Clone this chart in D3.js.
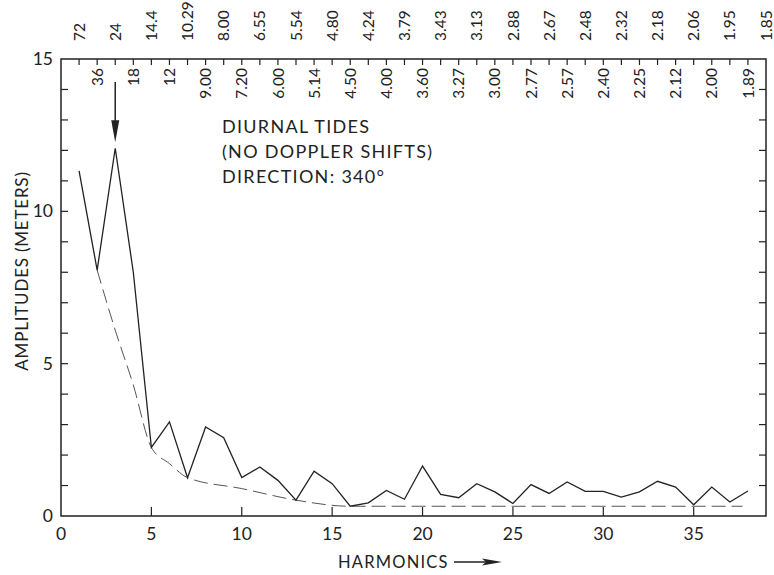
<!DOCTYPE html>
<html lang="en">
<head>
  <meta charset="UTF-8">
  <title>Diurnal tides harmonics</title>
  <script src="https://d3js.org/d3.v7.min.js"></script>
  <style>
    body { margin: 0; padding: 0; background: #fff; }
    svg { display: block; }
    text { fill: #222; font-family: Lato, "Open Sans", sans-serif; }
  </style>
</head>
<body>
  <div id="chart"></div>
  <script>
    // Harmonic numbers and read-off amplitudes (meters)
    const harmonics = [1, 2, 3, 4, 5, 6, 7, 8, 9, 10, 11, 12, 13, 14, 15, 16, 17, 18, 19,
      20, 21, 22, 23, 24, 25, 26, 27, 28, 29, 30, 31, 32, 33, 34, 35, 36, 37, 38];
    const amplitudes = [11.33, 8.07, 12.07, 8.0, 2.25, 3.09, 1.26, 2.92, 2.57, 1.26,
      1.61, 1.17, 0.52, 1.47, 1.06, 0.32, 0.43, 0.84, 0.55, 1.64,
      0.71, 0.60, 1.06, 0.79, 0.41, 1.03, 0.74, 1.12, 0.81, 0.81,
      0.62, 0.79, 1.14, 0.95, 0.37, 0.95, 0.46, 0.82];

    // dashed lower envelope
    const envHarmonics = [2, 3, 4, 5, 6, 7, 10, 13, 16, 20, 25, 30, 35, 37.7];
    const envValues = [8.07, 6.1, 4.3, 2.25, 1.72, 1.26, 0.9, 0.52, 0.32, 0.32, 0.32, 0.32, 0.32, 0.32];

    // period labels (hours) on the top axis, one per harmonic 1..39
    const periodHarmonics = d3.range(1, 40);
    const periodLabels = ["72", "36", "24", "18", "14.4", "12", "10.29", "9.00", "8.00", "7.20",
      "6.55", "6.00", "5.54", "5.14", "4.80", "4.50", "4.24", "4.00", "3.79", "3.60",
      "3.43", "3.27", "3.13", "3.00", "2.88", "2.77", "2.67", "2.57", "2.48", "2.40",
      "2.32", "2.25", "2.18", "2.12", "2.06", "2.00", "1.95", "1.89", "1.85"];

    const xTicks = [0, 5, 10, 15, 20, 25, 30, 35];
    const yTicks = [0, 5, 10, 15];

    const width = 774, height = 575;
    const margin = { top: 59, right: 8, bottom: 59, left: 61 };

    const x = d3.scaleLinear().domain([0, 39]).range([margin.left, width - margin.right]);
    const y = d3.scaleLinear().domain([0, 15]).range([height - margin.bottom, margin.top]);

    const svg = d3.select("#chart").append("svg")
      .attr("width", width)
      .attr("height", height);

    const ink = "#222";

    // frame
    svg.append("rect")
      .attr("x", x(0)).attr("y", y(15))
      .attr("width", x(39) - x(0)).attr("height", y(0) - y(15))
      .attr("fill", "none").attr("stroke", ink).attr("stroke-width", 1.5);

    // left and right minor ticks every meter
    const unitTicks = d3.range(1, 15);
    svg.append("g").selectAll("line")
      .data(unitTicks).join("line")
      .attr("x1", x(0)).attr("x2", x(0) + 7)
      .attr("y1", d => y(d)).attr("y2", d => y(d))
      .attr("stroke", ink).attr("stroke-width", 1.2);
    svg.append("g").selectAll("line")
      .data(unitTicks).join("line")
      .attr("x1", x(39)).attr("x2", x(39) - 7)
      .attr("y1", d => y(d)).attr("y2", d => y(d))
      .attr("stroke", ink).attr("stroke-width", 1.2);

    // y tick labels
    svg.append("g").selectAll("text")
      .data(yTicks).join("text")
      .attr("x", x(0) - 8)
      .attr("y", d => y(d))
      .attr("dy", "0.35em")
      .attr("text-anchor", "end")
      .attr("font-size", 17.5)
      .text(d => d);

    // bottom ticks
    svg.append("g").selectAll("line")
      .data(xTicks.filter(d => d > 0)).join("line")
      .attr("x1", d => x(d)).attr("x2", d => x(d))
      .attr("y1", y(0)).attr("y2", y(0) - 9)
      .attr("stroke", ink).attr("stroke-width", 1.2);

    svg.append("g").selectAll("text")
      .data(xTicks).join("text")
      .attr("x", d => x(d))
      .attr("y", y(0) + 24)
      .attr("text-anchor", "middle")
      .attr("font-size", 17.5)
      .text(d => d);

    // top ticks, one per harmonic
    svg.append("g").selectAll("line")
      .data(periodHarmonics.filter(d => d < 39)).join("line")
      .attr("x1", d => x(d)).attr("x2", d => x(d))
      .attr("y1", y(15)).attr("y2", y(15) + 6)
      .attr("stroke", ink).attr("stroke-width", 1.2);

    // period labels: odd harmonics above the axis, even ones below
    svg.append("g").selectAll("text")
      .data(periodHarmonics).join("text")
      .attr("transform", d => d % 2 === 1
        ? `translate(${x(d)},${y(15) - 18}) rotate(-90)`
        : `translate(${x(d)},${y(15) + 9}) rotate(-90)`)
      .attr("dy", "0.36em")
      .attr("text-anchor", d => d % 2 === 1 ? "start" : "end")
      .attr("font-size", 15.5)
      .text((d, i) => periodLabels[i]);

    // envelope
    svg.append("path")
      .datum(envHarmonics.map((h, i) => [h, envValues[i]]))
      .attr("fill", "none")
      .attr("stroke", "#555")
      .attr("stroke-width", 1)
      .attr("stroke-dasharray", "14,6")
      .attr("d", d3.line().x(d => x(d[0])).y(d => y(d[1])).curve(d3.curveMonotoneX));

    // amplitude spectrum
    svg.append("path")
      .datum(harmonics.map((h, i) => [h, amplitudes[i]]))
      .attr("fill", "none")
      .attr("stroke", ink)
      .attr("stroke-width", 1.3)
      .attr("d", d3.line().x(d => x(d[0])).y(d => y(d[1])));

    // arrow marking the 24-hour harmonic
    const ax = x(3), tipY = y(amplitudes[2]) - 6;
    svg.append("line")
      .attr("x1", ax).attr("x2", ax)
      .attr("y1", y(15) + 23).attr("y2", tipY - 14)
      .attr("stroke", ink).attr("stroke-width", 1.5);
    svg.append("path")
      .attr("d", `M${ax - 4},${tipY - 22} L${ax + 4},${tipY - 22} L${ax},${tipY} Z`)
      .attr("fill", ink);

    // annotation
    const note = svg.append("text")
      .attr("x", 222).attr("y", 133)
      .attr("font-size", 18)
      .attr("letter-spacing", 1.3);
    ["DIURNAL TIDES", "(NO DOPPLER SHIFTS)", "DIRECTION: 340\u00B0"].forEach((t, i) => {
      note.append("tspan").attr("x", 222).attr("dy", i === 0 ? 0 : 25).text(t);
    });

    // axis titles
    svg.append("text")
      .attr("transform", `translate(28,271) rotate(-90)`)
      .attr("text-anchor", "middle")
      .attr("font-size", 17)
      .attr("letter-spacing", 0.8)
      .text("AMPLITUDES (METERS)");

    svg.append("text")
      .attr("x", 338).attr("y", 568)
      .attr("font-size", 16.5)
      .attr("letter-spacing", 1.2)
      .text("HARMONICS");
    svg.append("line")
      .attr("x1", 454).attr("x2", 490)
      .attr("y1", 562).attr("y2", 562)
      .attr("stroke", ink).attr("stroke-width", 1.5);
    svg.append("path")
      .attr("d", "M482,558.5 L502,562 L482,565.5 L486,562 Z")
      .attr("fill", ink);
  </script>
</body>
</html>
